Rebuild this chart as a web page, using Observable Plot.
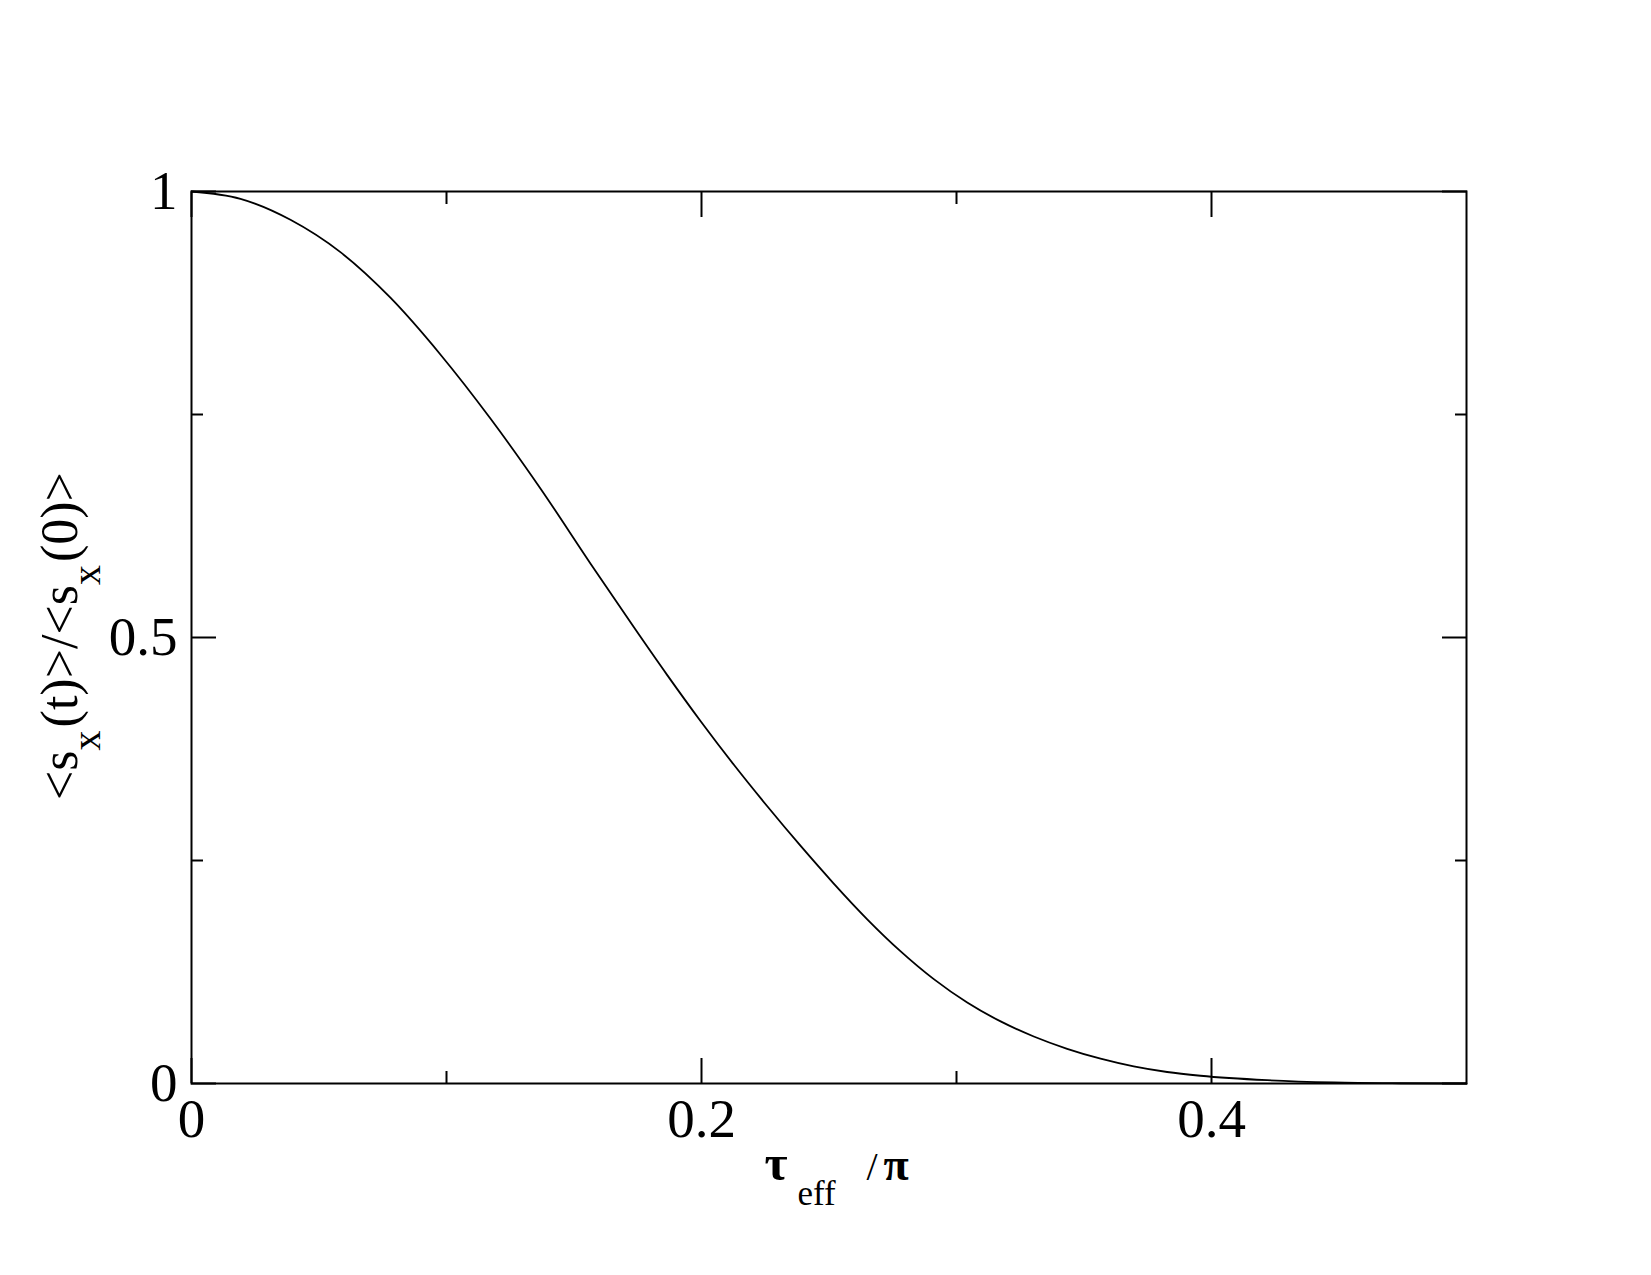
<!DOCTYPE html>
<html>
<head>
<meta charset="utf-8">
<script src="https://cdn.jsdelivr.net/npm/d3@7"></script>
<script src="https://cdn.jsdelivr.net/npm/@observablehq/plot@0.6"></script>
<style>
  html, body { margin: 0; padding: 0; background: white; }
  #chart { width: 1651px; height: 1275px; }
</style>
</head>
<body>
<div id="chart"></div>
<script>
// Data
const tauEff = [0, 0.0192, 0.0388, 0.0584, 0.0780, 0.0976, 0.1173, 0.1369, 0.1565, 0.1735,
  0.1865, 0.1996, 0.2127, 0.2258, 0.2388, 0.2516, 0.2650, 0.2780, 0.2911, 0.3042,
  0.3173, 0.3303, 0.3434, 0.3565, 0.3695, 0.3826, 0.3957, 0.4218, 0.4480, 0.4740, 0.5];
const sxRatio = [1.0, 0.9918, 0.9683, 0.9320, 0.8809, 0.8173, 0.7452, 0.6668, 0.5828, 0.5114,
  0.4581, 0.4064, 0.3573, 0.3108, 0.2666, 0.2250, 0.1841, 0.1484, 0.1170, 0.0908,
  0.0696, 0.0527, 0.0389, 0.0278, 0.0192, 0.0129, 0.0087, 0.0037, 0.0012, 0.0003, 0];

const xMajorTicks = [0, 0.2, 0.4];
const xMinorTicks = [0.1, 0.3];
const yMajorTicks = [0, 0.5, 1];
const yMinorTicks = [0.25, 0.75];
const xDomain = [0, 0.5];
const yDomain = [0, 1];

const rows = tauEff.map((t, i) => ({t, v: sxRatio[i]}));
const fmt = d => String(d);

const FONT = "'Liberation Serif', 'Times New Roman', serif";

const chart = Plot.plot({
  width: 1651,
  height: 1275,
  marginLeft: 191,
  marginRight: 185,
  marginTop: 191,
  marginBottom: 192,
  style: {fontFamily: FONT, background: "white", color: "black", overflow: "visible"},
  x: {domain: xDomain, label: null},
  y: {domain: yDomain, label: null},
  marks: [
    Plot.line(rows, {x: "t", y: "v", stroke: "black", strokeWidth: 1.8, curve: "monotone-x"}),
    // major ticks, inward, on all four sides
    Plot.axisX({anchor: "bottom", ticks: xMajorTicks, tickSize: -25, tickFormat: () => "", strokeWidth: 2, label: null}),
    Plot.axisX({anchor: "top", ticks: xMajorTicks, tickSize: -25, tickFormat: () => "", strokeWidth: 2, label: null}),
    Plot.axisY({anchor: "left", ticks: yMajorTicks, tickSize: -25, tickFormat: () => "", strokeWidth: 2, label: null}),
    Plot.axisY({anchor: "right", ticks: yMajorTicks, tickSize: -25, tickFormat: () => "", strokeWidth: 2, label: null}),
    // minor ticks
    Plot.axisX({anchor: "bottom", ticks: xMinorTicks, tickSize: -12, tickFormat: () => "", strokeWidth: 2, label: null}),
    Plot.axisX({anchor: "top", ticks: xMinorTicks, tickSize: -12, tickFormat: () => "", strokeWidth: 2, label: null}),
    Plot.axisY({anchor: "left", ticks: yMinorTicks, tickSize: -12, tickFormat: () => "", strokeWidth: 2, label: null}),
    Plot.axisY({anchor: "right", ticks: yMinorTicks, tickSize: -12, tickFormat: () => "", strokeWidth: 2, label: null}),
    // tick labels
    Plot.axisX({anchor: "bottom", ticks: xMajorTicks, tickSize: 0, tickPadding: 14, tickFormat: fmt, fontSize: 55, label: null}),
    Plot.axisY({anchor: "left", ticks: yMajorTicks, tickSize: 0, tickPadding: 14, tickFormat: fmt, fontSize: 55, label: null}),
    Plot.frame({stroke: "black", strokeWidth: 2})
  ]
});

document.getElementById("chart").appendChild(chart);

// Axis titles with subscripts, placed from the scales
const svg = d3.select(chart);
const xs = chart.scale("x"), ys = chart.scale("y");
const cx = (xs.apply(xDomain[0]) + xs.apply(xDomain[1])) / 2;
const cy = (ys.apply(yDomain[0]) + ys.apply(yDomain[1])) / 2;
const x0 = xs.apply(xDomain[0]);
const yb = ys.apply(yDomain[0]);

// x title: τ_eff/π
const xt = svg.append("text")
  .attr("text-anchor", "start")
  .attr("y", yb + 97)
  .attr("font-family", FONT)
  .attr("font-size", 38)
  .attr("fill", "black");
xt.append("tspan").attr("x", cx - 64).attr("font-weight", "bold").attr("font-size", 50).text("τ");
xt.append("tspan").attr("x", cx - 31).attr("dy", 25).attr("font-size", 35).text("eff");
xt.append("tspan").attr("x", cx + 38).attr("dy", -25).attr("font-size", 40).text("/");
xt.append("tspan").attr("x", cx + 55).attr("font-weight", "bold").attr("font-size", 46).text("π");

// y title: <s_x(t)>/<s_x(0)>
const yt = svg.append("text")
  .attr("text-anchor", "start")
  .attr("transform", `translate(${x0 - 114},${cy + 163}) rotate(-90)`)
  .attr("font-family", FONT)
  .attr("font-size", 52)
  .attr("fill", "black");
yt.append("tspan").text("<s");
yt.append("tspan").attr("dy", 23).attr("font-size", 40).text("x");
yt.append("tspan").attr("dx", 3).attr("dy", -23).text("(t)>/<s");
yt.append("tspan").attr("dy", 23).attr("font-size", 40).text("x");
yt.append("tspan").attr("dx", 3).attr("dy", -23).text("(0)>");
</script>
</body>
</html>
